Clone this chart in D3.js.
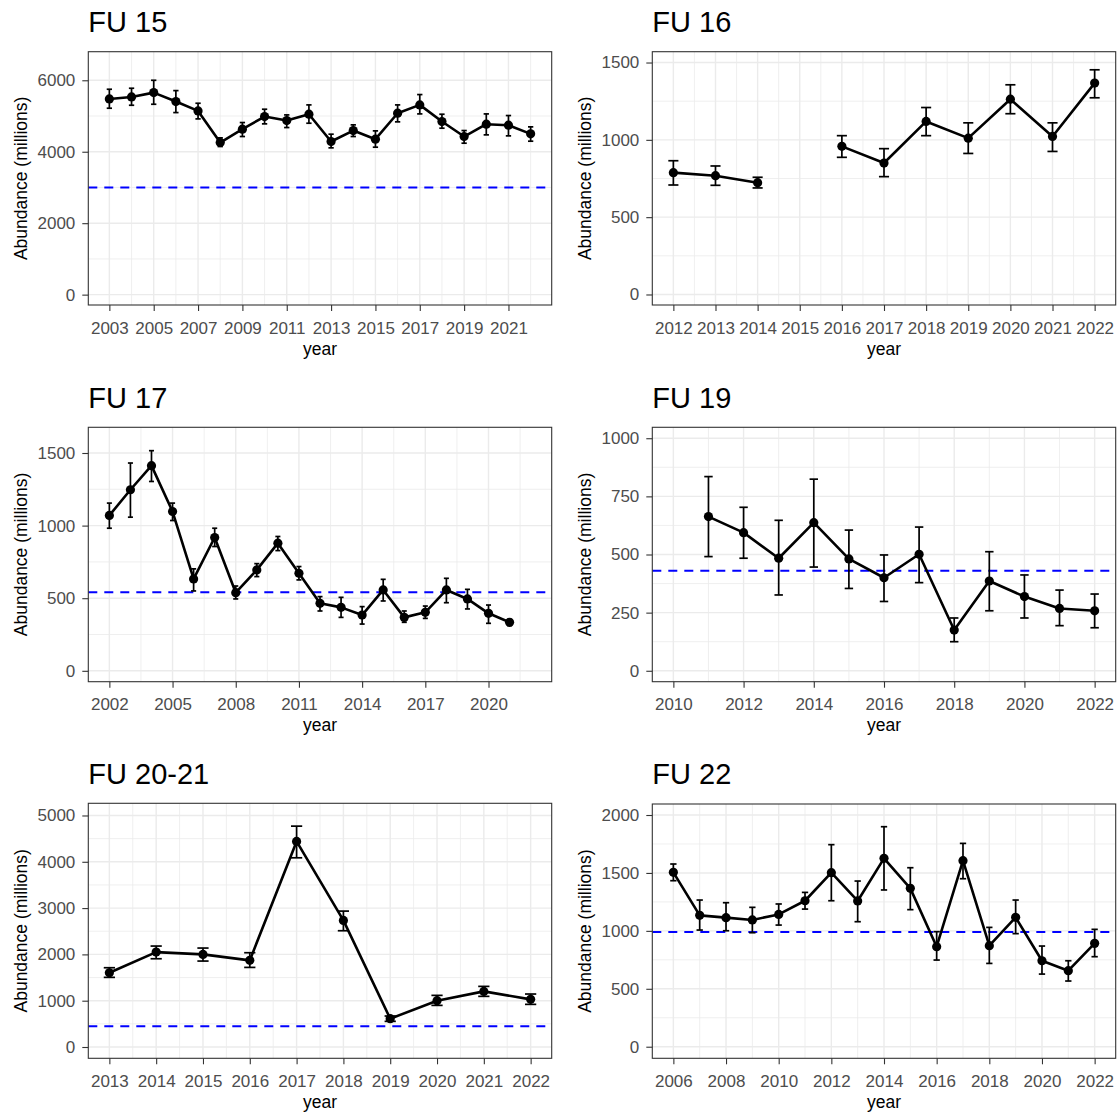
<!DOCTYPE html>
<html>
<head>
<meta charset="utf-8">
<script src="https://cdn.jsdelivr.net/npm/d3@7"></script>
<style>
    body { margin: 0; background: #fff; }
    svg { display: block; font-family: "Liberation Sans", Arial, sans-serif; }
</style>
</head>
<body>
<div id="chart"></div>
<script>
// Dades llegides del gràfic (abundància en milions, amb interval inferior i superior)

// FU 15
const fu15Years = [2003, 2004, 2005, 2006, 2007, 2008, 2009, 2010, 2011, 2012, 2013, 2014, 2015, 2016, 2017, 2018, 2019, 2020, 2021, 2022];
const fu15Est   = [5478, 5534, 5655, 5404, 5143, 4258, 4631, 4985, 4873, 5050, 4286, 4593, 4351, 5078, 5311, 4845, 4426, 4770, 4742, 4500];
const fu15Low   = [5218, 5301, 5329, 5096, 4919, 4146, 4426, 4780, 4677, 4798, 4109, 4426, 4127, 4836, 5059, 4659, 4239, 4472, 4444, 4295];
const fu15High  = [5749, 5777, 6000, 5711, 5357, 4388, 4817, 5190, 5031, 5311, 4491, 4752, 4584, 5311, 5600, 5050, 4593, 5059, 5013, 4696];
const fu15Ref = 3000;
const fu15XTicks = [2003, 2005, 2007, 2009, 2011, 2013, 2015, 2017, 2019, 2021];
const fu15YTicks = [0, 2000, 4000, 6000];

// FU 16 (sense dada el 2015)
const fu16Years = [2012, 2013, 2014, 2015, 2016, 2017, 2018, 2019, 2020, 2021, 2022];
const fu16Est   = [788, 768, 723, null, 958, 850, 1119, 1011, 1263, 1022, 1367];
const fu16Low   = [708, 706, 689, null, 887, 762, 1027, 912, 1169, 925, 1272];
const fu16High  = [865, 831, 758, null, 1027, 943, 1209, 1110, 1356, 1110, 1453];
const fu16Ref = null;
const fu16XTicks = [2012, 2013, 2014, 2015, 2016, 2017, 2018, 2019, 2020, 2021, 2022];
const fu16YTicks = [0, 500, 1000, 1500];

// FU 17
const fu17Years = [2002, 2003, 2004, 2005, 2006, 2007, 2008, 2009, 2010, 2011, 2012, 2013, 2014, 2015, 2016, 2017, 2018, 2019, 2020, 2021];
const fu17Est   = [1070, 1247, 1413, 1097, 633, 918, 538, 695, 879, 672, 465, 437, 384, 557, 368, 403, 557, 495, 396, 334];
const fu17Low   = [982, 1058, 1304, 1035, 550, 856, 495, 649, 828, 626, 412, 368, 322, 481, 334, 361, 469, 426, 327, 311];
const fu17High  = [1155, 1431, 1516, 1155, 702, 982, 584, 738, 925, 718, 511, 506, 442, 630, 412, 446, 637, 561, 453, 354];
const fu17Ref = 541;
const fu17XTicks = [2002, 2005, 2008, 2011, 2014, 2017, 2020];
const fu17YTicks = [0, 500, 1000, 1500];

// FU 19
const fu19Years = [2011, 2012, 2013, 2014, 2015, 2016, 2017, 2018, 2019, 2020, 2021, 2022];
const fu19Est   = [663, 594, 484, 637, 481, 400, 501, 175, 386, 319, 268, 258];
const fu19Low   = [491, 484, 326, 446, 354, 298, 379, 125, 258, 227, 194, 185];
const fu19High  = [835, 703, 647, 824, 605, 498, 618, 227, 512, 412, 347, 330];
const fu19Ref = 430;
const fu19XTicks = [2010, 2012, 2014, 2016, 2018, 2020, 2022];
const fu19YTicks = [0, 250, 500, 750, 1000];

// FU 20-21
const fu2021Years = [2013, 2014, 2015, 2016, 2017, 2018, 2019, 2020, 2021, 2022];
const fu2021Est   = [1604, 2050, 2000, 1871, 4439, 2734, 612, 1000, 1201, 1029];
const fu2021Low   = [1504, 1906, 1856, 1719, 4086, 2511, 554, 899, 1094, 921];
const fu2021High  = [1712, 2180, 2137, 2036, 4770, 2935, 669, 1115, 1309, 1144];
const fu2021Ref = 446;
const fu2021XTicks = [2013, 2014, 2015, 2016, 2017, 2018, 2019, 2020, 2021, 2022];
const fu2021YTicks = [0, 1000, 2000, 3000, 4000, 5000];

// FU 22
const fu22Years = [2006, 2007, 2008, 2009, 2010, 2011, 2012, 2013, 2014, 2015, 2016, 2017, 2018, 2019, 2020, 2021, 2022];
const fu22Est   = [1505, 1134, 1114, 1094, 1142, 1260, 1502, 1258, 1626, 1367, 863, 1606, 872, 1117, 742, 656, 892];
const fu22Low   = [1433, 1007, 1001, 984, 1050, 1188, 1260, 1079, 1353, 1183, 748, 1450, 719, 976, 627, 567, 777];
const fu22High  = [1577, 1266, 1243, 1203, 1232, 1332, 1744, 1430, 1899, 1545, 993, 1755, 1030, 1266, 869, 742, 1013];
const fu22Ref = 990;
const fu22XTicks = [2006, 2008, 2010, 2012, 2014, 2016, 2018, 2020, 2022];
const fu22YTicks = [0, 500, 1000, 1500, 2000];

// Disposició dels panells (posicions en píxels i dominis dels eixos)
const panels = [
    { title: "FU 15", years: fu15Years, est: fu15Est, low: fu15Low, high: fu15High, ref: fu15Ref,
      xTicks: fu15XTicks, yTicks: fu15YTicks, xDomain: [2002.05, 2022.95], yDomain: [-290, 6800],
      left: 88.3, right: 551.7, top: 51.7, bottom: 305 },
    { title: "FU 16", years: fu16Years, est: fu16Est, low: fu16Low, high: fu16High, ref: fu16Ref,
      xTicks: fu16XTicks, yTicks: fu16YTicks, xDomain: [2011.5, 2022.5], yDomain: [-68, 1570],
      left: 652.3, right: 1115.7, top: 51.7, bottom: 305 },
    { title: "FU 17", years: fu17Years, est: fu17Est, low: fu17Low, high: fu17High, ref: fu17Ref,
      xTicks: fu17XTicks, yTicks: fu17YTicks, xDomain: [2001, 2023], yDomain: [-75, 1677],
      left: 88.3, right: 551.7, top: 427.3, bottom: 681.7 },
    { title: "FU 19", years: fu19Years, est: fu19Est, low: fu19Low, high: fu19High, ref: fu19Ref,
      xTicks: fu19XTicks, yTicks: fu19YTicks, xDomain: [2009.4, 2022.6], yDomain: [-47, 1047],
      left: 652.3, right: 1115.7, top: 427.3, bottom: 681.7 },
    { title: "FU 20-21", years: fu2021Years, est: fu2021Est, low: fu2021Low, high: fu2021High, ref: fu2021Ref,
      xTicks: fu2021XTicks, yTicks: fu2021YTicks, xDomain: [2012.55, 2022.45], yDomain: [-244, 5263],
      left: 88.3, right: 551.7, top: 803.3, bottom: 1058.3 },
    { title: "FU 22", years: fu22Years, est: fu22Est, low: fu22Low, high: fu22High, ref: fu22Ref,
      xTicks: fu22XTicks, yTicks: fu22YTicks, xDomain: [2005.2, 2022.8], yDomain: [-100, 2095],
      left: 652.3, right: 1115.7, top: 804, bottom: 1058.3 }
];

const width = 1120;
const height = 1115;
const gridColor = "#EBEBEB";
const capHalf = 0.12; // mitja amplada de les barres d'error (anys)

const svg = d3.select("#chart")
    .append("svg")
    .attr("width", width)
    .attr("height", height);

svg.append("rect").attr("width", width).attr("height", height).attr("fill", "#fff");

// Línies menors de la graella: punts mitjos entre les marques principals
function minorBreaks(ticks, domain) {
    const step = ticks[1] - ticks[0];
    const out = [];
    const lo = Math.min(domain[0], domain[1]);
    const hi = Math.max(domain[0], domain[1]);
    [ticks[0] - step / 2].concat(ticks.map(t => t + step / 2)).forEach(v => {
        if (v > lo && v < hi) out.push(v);
    });
    return out;
}

function drawPanel(p) {
    const x = d3.scaleLinear().domain(p.xDomain).range([p.left, p.right]);
    const y = d3.scaleLinear().domain(p.yDomain).range([p.bottom, p.top]);
    const g = svg.append("g");

    const rows = p.years.map((yr, i) => ({ year: yr, est: p.est[i], low: p.low[i], high: p.high[i] }));
    const valid = rows.filter(d => d.est !== null);

    // Graella menor
    g.selectAll(".minor-x")
        .data(minorBreaks(p.xTicks, p.xDomain))
        .join("line")
        .attr("x1", d => x(d)).attr("x2", d => x(d))
        .attr("y1", p.top).attr("y2", p.bottom)
        .attr("stroke", gridColor).attr("stroke-width", 0.8);
    g.selectAll(".minor-y")
        .data(minorBreaks(p.yTicks, p.yDomain))
        .join("line")
        .attr("x1", p.left).attr("x2", p.right)
        .attr("y1", d => y(d)).attr("y2", d => y(d))
        .attr("stroke", gridColor).attr("stroke-width", 0.8);

    // Graella principal
    g.selectAll(".major-x")
        .data(p.xTicks)
        .join("line")
        .attr("x1", d => x(d)).attr("x2", d => x(d))
        .attr("y1", p.top).attr("y2", p.bottom)
        .attr("stroke", gridColor).attr("stroke-width", 1.4);
    g.selectAll(".major-y")
        .data(p.yTicks)
        .join("line")
        .attr("x1", p.left).attr("x2", p.right)
        .attr("y1", d => y(d)).attr("y2", d => y(d))
        .attr("stroke", gridColor).attr("stroke-width", 1.4);

    // Línia de referència discontínua
    if (p.ref !== null) {
        g.append("line")
            .attr("x1", p.left).attr("x2", p.right)
            .attr("y1", y(p.ref)).attr("y2", y(p.ref))
            .attr("stroke", "#0000FF")
            .attr("stroke-width", 2)
            .attr("stroke-dasharray", "9,7");
    }

    // Barres d'error
    const capPx = x(p.xDomain[0] + capHalf) - x(p.xDomain[0]);
    const eb = g.selectAll(".errbar")
        .data(valid)
        .join("g");
    eb.append("line")
        .attr("x1", d => x(d.year)).attr("x2", d => x(d.year))
        .attr("y1", d => y(d.low)).attr("y2", d => y(d.high));
    eb.append("line")
        .attr("x1", d => x(d.year) - capPx).attr("x2", d => x(d.year) + capPx)
        .attr("y1", d => y(d.low)).attr("y2", d => y(d.low));
    eb.append("line")
        .attr("x1", d => x(d.year) - capPx).attr("x2", d => x(d.year) + capPx)
        .attr("y1", d => y(d.high)).attr("y2", d => y(d.high));
    eb.selectAll("line").attr("stroke", "#000").attr("stroke-width", 1.7);

    // Línia de la sèrie (es trenca on falten dades)
    const line = d3.line()
        .defined(d => d.est !== null)
        .x(d => x(d.year))
        .y(d => y(d.est));
    g.append("path")
        .datum(rows)
        .attr("d", line)
        .attr("fill", "none")
        .attr("stroke", "#000")
        .attr("stroke-width", 2.6)
        .attr("stroke-linejoin", "round");

    // Punts
    g.selectAll(".pt")
        .data(valid)
        .join("circle")
        .attr("cx", d => x(d.year))
        .attr("cy", d => y(d.est))
        .attr("r", 4.6)
        .attr("fill", "#000");

    // Vora del panell
    g.append("rect")
        .attr("x", p.left).attr("y", p.top)
        .attr("width", p.right - p.left).attr("height", p.bottom - p.top)
        .attr("fill", "none").attr("stroke", "#333333").attr("stroke-width", 1.1);

    // Eixos
    const xAxis = g.append("g")
        .attr("transform", `translate(0, ${p.bottom})`)
        .call(d3.axisBottom(x).tickValues(p.xTicks).tickFormat(d3.format("d")).tickSize(6).tickPadding(10.5));
    const yAxis = g.append("g")
        .attr("transform", `translate(${p.left}, 0)`)
        .call(d3.axisLeft(y).tickValues(p.yTicks).tickFormat(d3.format("d")).tickSize(6).tickPadding(7));
    [xAxis, yAxis].forEach(ax => {
        ax.select(".domain").remove();
        ax.selectAll(".tick line").attr("stroke", "#333333").attr("stroke-width", 1.1);
        ax.selectAll(".tick text")
            .attr("fill", "#4D4D4D")
            .style("font-size", "17px")
            .style("font-family", "'Liberation Sans', Arial, sans-serif");
    });

    // Etiquetes dels eixos i títol
    g.append("text")
        .attr("x", (p.left + p.right) / 2)
        .attr("y", p.bottom + 49.5)
        .attr("text-anchor", "middle")
        .style("font-size", "17.5px")
        .attr("fill", "#000")
        .text("year");

    g.append("text")
        .attr("transform", `translate(${p.left - 61}, ${(p.top + p.bottom) / 2}) rotate(-90)`)
        .attr("text-anchor", "middle")
        .style("font-size", "17.5px")
        .attr("fill", "#000")
        .text("Abundance (millions)");

    g.append("text")
        .attr("x", p.left)
        .attr("y", p.top - 19.7)
        .style("font-size", "29px")
        .attr("fill", "#000")
        .text(p.title);
}

panels.forEach(drawPanel);
</script>
</body>
</html>
